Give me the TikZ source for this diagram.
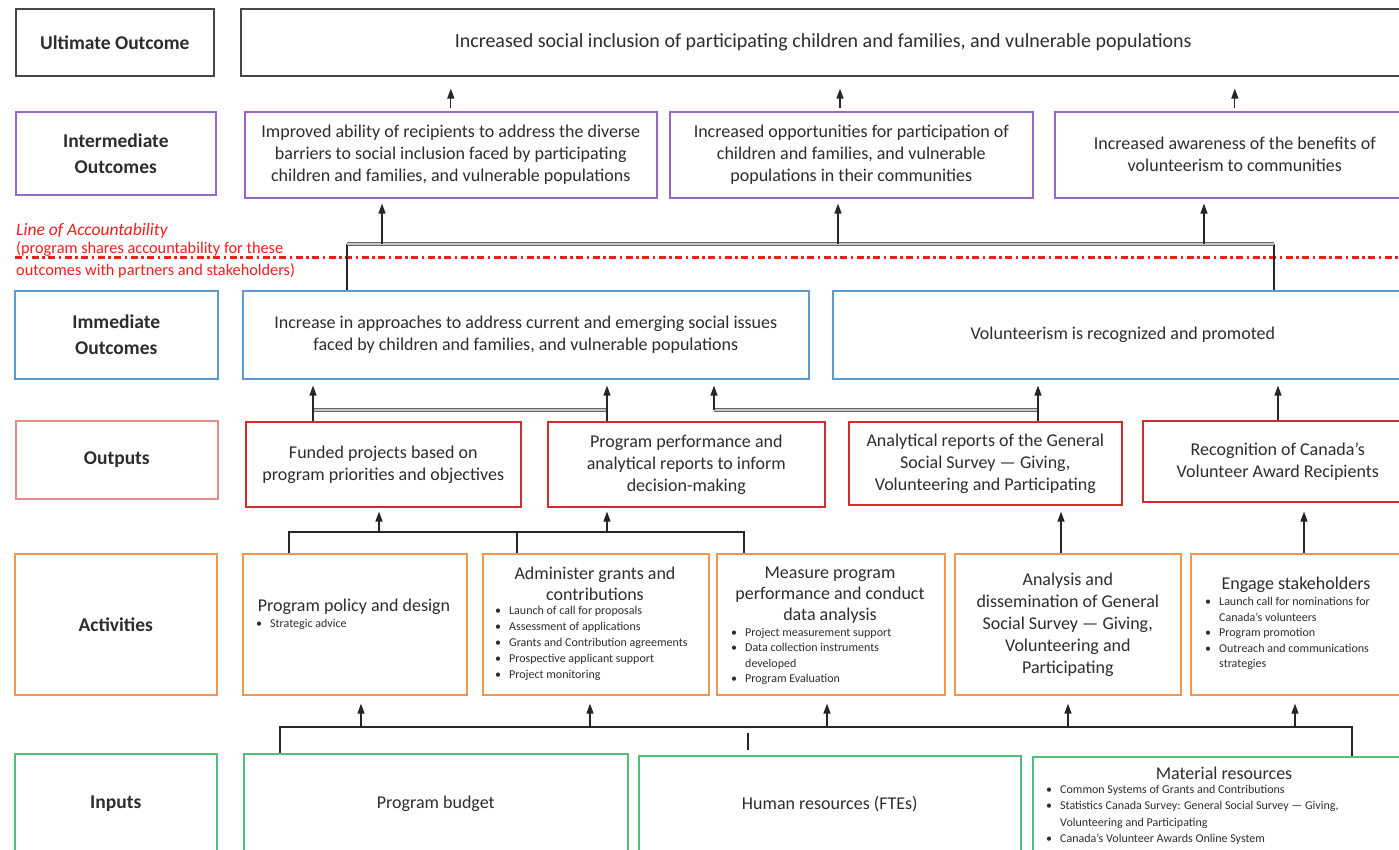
\documentclass[tikz,border=0pt]{standalone}
\usepackage{fontspec}
\setmainfont{Carlito}
\usetikzlibrary{arrows.meta}
\definecolor{txtc}{RGB}{45,45,45}
\definecolor{ultc}{RGB}{70,70,70}
\definecolor{intc}{RGB}{155,100,200}
\definecolor{immc}{RGB}{90,155,215}
\definecolor{outc}{RGB}{210,45,45}
\definecolor{outl}{RGB}{230,140,140}
\definecolor{actc}{RGB}{240,150,80}
\definecolor{inpc}{RGB}{85,190,120}
\definecolor{loac}{RGB}{240,30,30}
\newcommand\fmain{\fontsize{18}{22}\selectfont}
\newcommand\fult{\fontsize{20}{24}\selectfont}
\newcommand\flab{\fontsize{19.5}{26}\selectfont\bfseries}
\newcommand\fsmall{\fontsize{12}{16}\selectfont}
\newcommand\fital{\fontsize{17.5}{20}\selectfont\itshape}
\newcommand\floa{\fontsize{16.3}{22}\selectfont}
\newcommand\bi{\makebox[14pt][l]{\textbullet}}
\newcommand\bc{\hspace*{14pt}}
\begin{document}
\begin{tikzpicture}[x=1pt,y=-1pt,
 box/.style={draw=#1, line width=1.6pt, inner sep=0pt, anchor=north west, align=center, text=txtc, font=\fmain},
 lbox/.style={box=#1, font=\flab},
 ln/.style={draw=black!85, line width=1.3pt},
 arr/.style={ln, -{Triangle[length=10pt,width=7pt]}},
 dbl/.style={draw=black!60, line width=1.3pt, double=black!22, double distance=2.2pt},
 txt/.style={inner sep=0pt, text=txtc, font=\fmain, align=center},
 blt/.style={inner sep=0pt, text=txtc, font=\fsmall, align=left, anchor=north west},
 loa/.style={draw=loac, line width=3pt, dash pattern=on 7pt off 3.5pt on 2.5pt off 3.5pt},
]
\useasboundingbox (0,0) rectangle (1399,850);
\clip (0,0) rectangle (1399,850);
\fill[white] (0,0) rectangle (1399,850);

% Row 1: ultimate
\node[lbox=ultc, minimum width=198pt, minimum height=67pt] (Lult) at (15,8) {Ultimate Outcome};
\node[box=ultc, font=\fult, minimum width=1165pt, minimum height=67pt] (U) at (240,8) {Increased social inclusion of participating children and families, and vulnerable populations};

% Row 2: intermediate
\node[lbox=intc, minimum width=200pt, minimum height=83pt] (Lint) at (15,111) {Intermediate\\Outcomes};
\node[box=intc, minimum width=412pt, minimum height=86pt] (I1) at (244,111) {Improved ability of recipients to address the diverse\\barriers to social inclusion faced by participating\\children and families, and vulnerable populations};
\node[box=intc, minimum width=363pt, minimum height=86pt] (I2) at (669,111) {Increased opportunities for participation of\\children and families, and vulnerable\\populations in their communities};
\node[box=intc, minimum width=360pt, minimum height=86pt] (I3) at (1054,111) {Increased awareness of the benefits of\\volunteerism to communities};

% Row 3: immediate
\node[lbox=immc, minimum width=203pt, minimum height=88pt] (Limm) at (14,290) {Immediate\\Outcomes};
\node[box=immc, minimum width=566pt, minimum height=88pt] (IM1) at (242,290) {Increase in approaches to address current and emerging social issues\\faced by children and families, and vulnerable populations};
\node[box=immc, minimum width=580pt, minimum height=88pt] (IM2) at (832,290) {Volunteerism is recognized and promoted};

% Row 4: outputs
\node[lbox=outl, minimum width=202pt, minimum height=78pt] (Lout) at (15,420) {Outputs};
\node[box=outc, minimum width=275pt, minimum height=85pt] (O1) at (245,421) {Funded projects based on\\program priorities and objectives};
\node[box=outc, minimum width=277pt, minimum height=85pt] (O2) at (547,421) {Program performance and\\analytical reports to inform\\decision-making};
\node[box=outc, minimum width=273pt, minimum height=83pt] (O3) at (848,421) {Analytical reports of the General\\Social Survey --- Giving,\\Volunteering and Participating};
\node[box=outc, minimum width=270pt, minimum height=81pt] (O4) at (1142,420) {Recognition of Canada's\\Volunteer Award Recipients};

% Row 5: activities
\node[lbox=actc, minimum width=202pt, minimum height=141pt] (Lact) at (14,553) {Activities};
\node[box=actc, minimum width=224pt, minimum height=141pt] (A1) at (242,553) {};
\node[box=actc, minimum width=226pt, minimum height=141pt] (A2) at (482,553) {};
\node[box=actc, minimum width=228pt, minimum height=141pt] (A3) at (716,553) {};
\node[box=actc, minimum width=226pt, minimum height=141pt] (A4) at (954,553) {Analysis and\\dissemination of General\\Social Survey --- Giving,\\Volunteering and\\Participating};
\node[box=actc, minimum width=220pt, minimum height=141pt] (A5) at (1190,553) {};

\node[txt, anchor=north] (A1h) at (354,598.5) {Program policy and design};
\node[blt] (A1b) at (256,619) {\bi Strategic advice};
\node[txt, anchor=north, font=\fontsize{18}{21}\selectfont] (A2h) at (595,566.5) {Administer grants and\\contributions};
\node[blt] (A2b) at (495,606) {\bi Launch of call for proposals\\\bi Assessment of applications\\\bi Grants and Contribution agreements\\\bi Prospective applicant support\\\bi Project monitoring};
\node[txt, anchor=north, font=\fontsize{18}{21}\selectfont] (A3h) at (830,566.5) {Measure program\\performance and conduct\\data analysis};
\node[blt, font=\fontsize{12}{15.5}\selectfont] (A3b) at (731,628) {\bi Project measurement support\\\bi Data collection instruments\\\bc developed\\\bi Program Evaluation};
\node[txt, anchor=north] (A5h) at (1296,576.5) {Engage stakeholders};
\node[blt, font=\fontsize{12}{15.5}\selectfont] (A5b) at (1205,597) {\bi Launch call for nominations for\\\bc Canada's volunteers\\\bi Program promotion\\\bi Outreach and communications\\\bc strategies};

% Row 6: inputs
\node[lbox=inpc, minimum width=202pt, minimum height=100pt] (Linp) at (14,753) {Inputs};
\node[box=inpc, minimum width=384pt, minimum height=100pt] (IN1) at (243,753) {Program budget};
\node[box=inpc, minimum width=382pt, minimum height=96pt] (IN2) at (638,755) {Human resources (FTEs)};
\node[box=inpc, minimum width=380pt, minimum height=100pt] (IN3) at (1032,756) {};
\node[txt, anchor=north] (IN3h) at (1224,766.5) {Material resources};
\node[blt, font=\fontsize{12}{16.3}\selectfont] (IN3b) at (1046,785) {\bi Common Systems of Grants and Contributions\\\bi Statistics Canada Survey: General Social Survey --- Giving,\\\bc Volunteering and Participating\\\bi Canada's Volunteer Awards Online System};

% Line of accountability
\coordinate (loaL) at (15,258);
\coordinate (loaR) at (1399,258);
\draw[loa] (loaL) -- (loaR);
\node[anchor=west, inner sep=0pt, text=loac, font=\fital] (loat) at (16,231) {Line of Accountability};
\node[anchor=north west, inner sep=0pt, text=loac, font=\floa, align=left] (loas) at (16,241) {(program shares accountability for these\\outcomes with partners and stakeholders)};

% Intermediate -> Ultimate
\draw[arr, shorten <=3pt, shorten >=12pt] (I1.north) -- (I1.north |- U.south);
\coordinate (u2) at (840,111);
\draw[arr, shorten <=3pt, shorten >=12pt] (u2) -- (u2 |- U.south);
\draw[arr, shorten <=3pt, shorten >=12pt] (I3.north) -- (I3.north |- U.south);

% Immediate -> Intermediate
\coordinate (bL) at (347,244);
\coordinate (bR) at (1274,244);
\draw[ln] (IM1.north -| bL) -- (bL);
\draw[ln] (IM2.north -| bR) -- (bR);
\draw[dbl] (bL) -- (bR);
\coordinate (a1) at (382,244);
\coordinate (a2) at (838,244);
\coordinate (a3) at (1204,244);
\draw[arr, shorten >=5pt] (a1) -- (a1 |- I1.south);
\draw[arr, shorten >=5pt] (a2) -- (a2 |- I2.south);
\draw[arr, shorten >=5pt] (a3) -- (a3 |- I3.south);

% Outputs -> Immediate
\coordinate (c1) at (313,410);
\coordinate (c2) at (607,410);
\coordinate (c3) at (714,410);
\coordinate (c4) at (1038,410);
\coordinate (c5) at (1278,410);
\draw[dbl] (c1) -- (c2);
\draw[dbl] (c3) -- (c4);
\draw[arr, shorten >=6pt] (O1.north -| c1) -- (c1 |- IM1.south);
\draw[arr, shorten >=6pt] (O2.north -| c2) -- (c2 |- IM1.south);
\draw[arr, shorten >=6pt] (c3) -- (c3 |- IM1.south);
\draw[arr, shorten >=6pt] (O3.north -| c4) -- (c4 |- IM2.south);
\draw[arr, shorten >=6pt] (O4.north -| c5) -- (c5 |- IM2.south);

% Activities -> Outputs
\coordinate (d1) at (289,532);
\coordinate (d2) at (517,532);
\coordinate (d3) at (744,532);
\draw[ln] (A1.north -| d1) -- (d1) -- (d3) -- (A3.north -| d3);
\draw[ln] (A2.north -| d2) -- (d2);
\coordinate (e1) at (379,532);
\coordinate (e2) at (607,532);
\coordinate (f1) at (1061,532);
\coordinate (f2) at (1304,532);
\draw[arr, shorten >=4pt] (e1) -- (e1 |- O1.south);
\draw[arr, shorten >=4pt] (e2) -- (e2 |- O2.south);
\draw[arr, shorten >=6pt] (A4.north -| f1) -- (f1 |- O3.south);
\draw[arr, shorten >=9pt] (A5.north -| f2) -- (f2 |- O4.south);

% Inputs -> Activities
\coordinate (gL) at (280,727);
\coordinate (gR) at (1352,727);
\draw[ln] (IN1.north -| gL) -- (gL) -- (gR) -- (IN3.north -| gR);
\coordinate (tickA) at (748,733);
\coordinate (tickB) at (748,750);
\draw[ln] (tickA) -- (tickB);
\coordinate (h1) at (361,727);
\coordinate (h2) at (590,727);
\coordinate (h3) at (827,727);
\coordinate (h4) at (1068,727);
\coordinate (h5) at (1295,727);
\draw[arr, shorten >=8pt] (h1) -- (h1 |- A1.south);
\draw[arr, shorten >=8pt] (h2) -- (h2 |- A2.south);
\draw[arr, shorten >=8pt] (h3) -- (h3 |- A3.south);
\draw[arr, shorten >=8pt] (h4) -- (h4 |- A4.south);
\draw[arr, shorten >=8pt] (h5) -- (h5 |- A5.south);
\end{tikzpicture}
\end{document}
